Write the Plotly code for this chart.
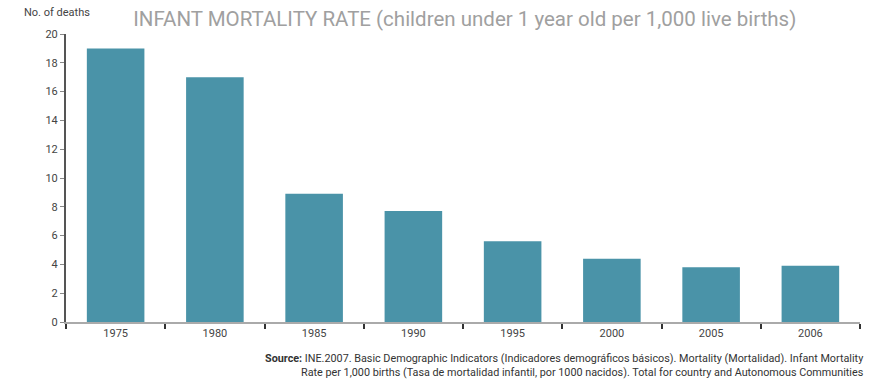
import plotly.graph_objects as go

years = ["1975", "1980", "1985", "1990", "1995", "2000", "2005", "2006"]
deaths = [19.0, 17.0, 8.9, 7.7, 5.6, 4.4, 3.8, 3.9]
y_ticks = [0, 2, 4, 6, 8, 10, 12, 14, 16, 18, 20]

fig = go.Figure(go.Bar(x=years, y=deaths, marker=dict(color="#4a93a8", line=dict(width=0)), hoverinfo="x+y"))

fig.update_layout(
    width=887, height=383,
    margin=dict(l=66, r=27, t=34, b=61),
    paper_bgcolor="white", plot_bgcolor="white",
    bargap=0.42,
    showlegend=False,
    font=dict(family="Roboto, sans-serif", size=11, color="#444"),
    title=dict(text="INFANT MORTALITY RATE (children under 1 year old per 1,000 live births)",
               x=0.524, xanchor="center", y=0.952, yanchor="middle",
               font=dict(size=20.5, color="#a0a0a0", family="Roboto, sans-serif")),
)
fig.update_xaxes(type="category", showgrid=False, showline=True, linecolor="#aaaaaa", linewidth=1.5,
                 ticks="outside", tickson="boundaries", ticklen=5, tickcolor="#333", tickwidth=1.5,
                 tickfont=dict(size=11, color="#444"))
fig.update_yaxes(range=[0, 20], tickvals=y_ticks, showgrid=False, zeroline=False, showline=True,
                 linecolor="#555", linewidth=2, ticks="outside", ticklen=4, tickcolor="#888", tickwidth=1,
                 tickfont=dict(size=11, color="#444"))

fig.add_annotation(text="No. of deaths", xref="paper", yref="paper", x=-0.056, y=1.0, yshift=13,
                   xanchor="left", yanchor="bottom", showarrow=False, font=dict(size=11, color="#444"))
fig.add_annotation(text="<b>Source:</b> INE.2007. Basic Demographic Indicators (Indicadores demográficos básicos). Mortality (Mortalidad). Infant Mortality<br>Rate per 1,000 births (Tasa de mortalidad infantil, por 1000 nacidos). Total for country and Autonomous Communities",
                   xref="paper", yref="paper", x=1.007, y=0, yshift=-28, xanchor="right", yanchor="top",
                   align="right", showarrow=False, font=dict(size=10.8, color="#333"))

fig.write_html("out.html")
